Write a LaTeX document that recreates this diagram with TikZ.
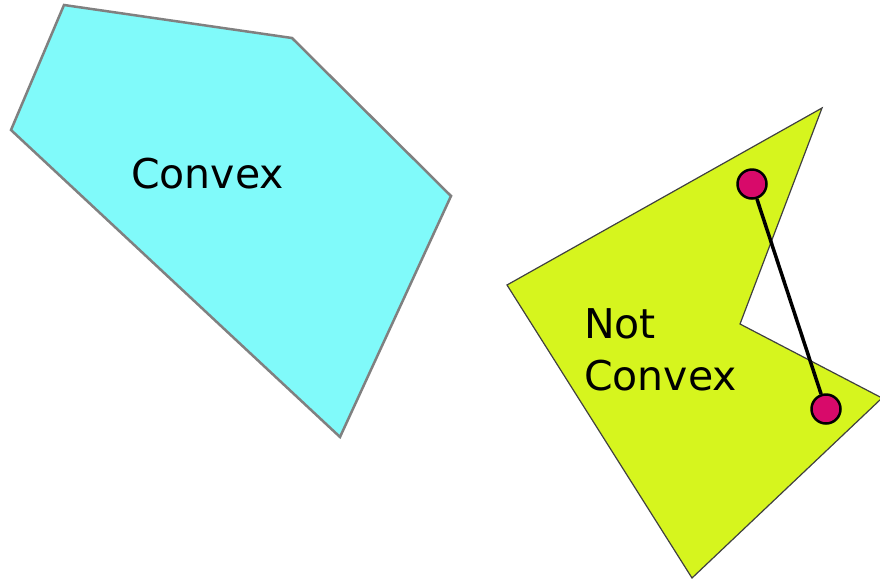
\documentclass[tikz,border=0pt]{standalone}
\usepackage{fontspec}
\setmainfont{DejaVu Sans}
\definecolor{cyanfill}{RGB}{128,250,250}
\definecolor{limefill}{RGB}{214,245,30}
\definecolor{dotred}{RGB}{216,10,106}
\begin{document}
\begin{tikzpicture}[x=1pt,y=-1pt,
  lbl/.style={font=\fontsize{41}{52}\selectfont,anchor=base west,inner sep=0pt,align=left},
  dotnode/.style={circle,draw=black,line width=2.5pt,fill=dotred,minimum size=29pt,inner sep=0pt}]
\useasboundingbox (0,0) rectangle (880,582);
\fill[white] (0,0) rectangle (880,582);
\draw[draw=gray,line width=2.5pt,fill=cyanfill,line join=miter]
  (64,5) -- (292,38) -- (451,196) -- (340,437) -- (11,130) -- cycle;
\draw[draw=black!75,line width=1.2pt,fill=limefill]
  (822,108) -- (740,324) -- (882,398) -- (692,578) -- (507,285) -- cycle;
\node[lbl] (c1) at (131,188) {Convex};
\node[lbl] (c2) at (584,390) {Not\\Convex};
\node[dotnode] (p1) at (752,184) {};
\node[dotnode] (p2) at (826,409) {};
\draw[line width=3.5pt] (p1) -- (p2);
\end{tikzpicture}
\end{document}
